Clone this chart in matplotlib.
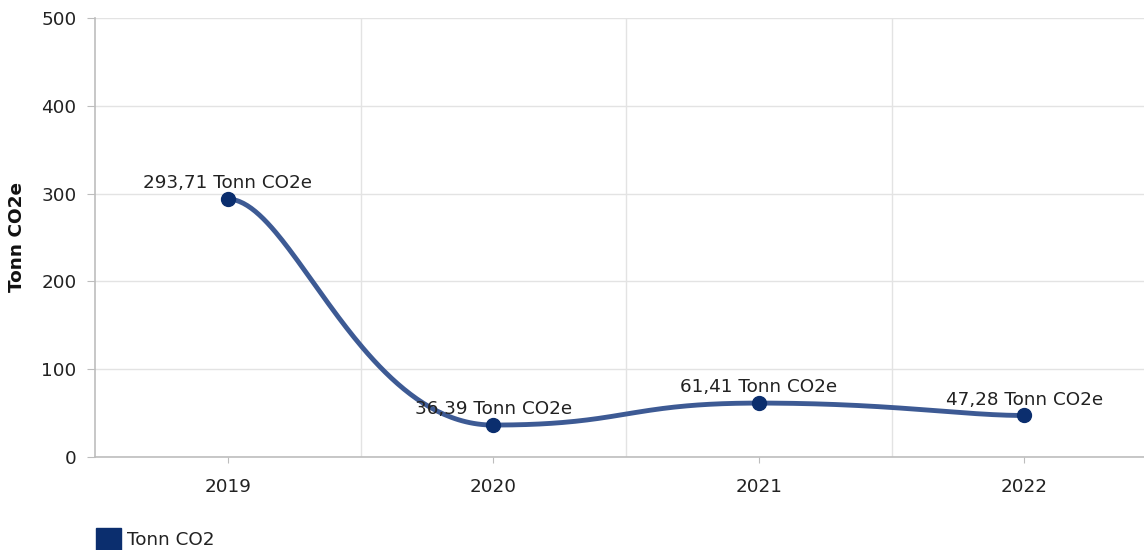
import matplotlib
matplotlib.use("Agg")
import matplotlib.pyplot as plt
import numpy as np
from matplotlib.patches import Rectangle

years = ["2019", "2020", "2021", "2022"]
values = [293.71, 36.39, 61.41, 47.28]
labels = ["293,71 Tonn CO2e", "36,39 Tonn CO2e", "61,41 Tonn CO2e", "47,28 Tonn CO2e"]
y_ticks = [0, 100, 200, 300, 400, 500]
series_name = "Tonn CO2"
y_title = "Tonn CO2e"

LINE = "#3d5a94"
MARK = "#0b2e6e"
GRID = "#e3e3e3"
AXIS = "#bdbdbd"
TXT = "#222222"

W, H = 1144, 550
fig = plt.figure(figsize=(W / 100, H / 100), dpi=100)
x0, x1 = 95, 1157
y0, y1 = 18, 457
ax = fig.add_axes([x0 / W, 1 - y1 / H, (x1 - x0) / W, (y1 - y0) / H])

xs = np.arange(len(values), dtype=float)
ys = np.array(values, dtype=float)


def smooth_curve(x, y, inner=0.5, end=0.24, samples=100):
    """Bezier spline: horizontal tangents at ends and local extrema."""
    n = len(x)
    slopes = np.zeros(n)
    for i in range(1, n - 1):
        a, b = y[i] - y[i - 1], y[i + 1] - y[i]
        if a * b > 0:
            slopes[i] = (y[i + 1] - y[i - 1]) / (x[i + 1] - x[i - 1])
    hl = np.full(n, inner)
    hl[0] = hl[-1] = end
    t = np.linspace(0, 1, samples)[:, None]
    out = []
    for i in range(n - 1):
        dx = x[i + 1] - x[i]
        P0 = np.array([x[i], y[i]])
        P3 = np.array([x[i + 1], y[i + 1]])
        P1 = P0 + np.array([hl[i] * dx, slopes[i] * hl[i] * dx])
        P2 = P3 - np.array([hl[i + 1] * dx, slopes[i + 1] * hl[i + 1] * dx])
        B = (1 - t) ** 3 * P0 + 3 * (1 - t) ** 2 * t * P1 + 3 * (1 - t) * t ** 2 * P2 + t ** 3 * P3
        out.append(B)
    B = np.vstack(out)
    return B[:, 0], B[:, 1]


cx, cy = smooth_curve(xs, ys)
ax.plot(cx, cy, color=LINE, lw=3.5, solid_capstyle="round", zorder=3)
ax.plot(xs, ys, "o", color=MARK, ms=10, zorder=4)

for xi, yi, lab in zip(xs, ys, labels):
    ax.annotate(lab, (xi, yi), xytext=(0, 7.8), textcoords="offset points",
                ha="center", va="baseline", fontsize=13.2, color=TXT, zorder=5)

ax.set_xlim(-0.5, 3.5)
ax.set_ylim(0, 500)
ax.set_yticks(y_ticks)
ax.set_yticklabels([str(v) for v in y_ticks])
ax.set_xticks(xs)
ax.set_xticklabels(years)
ax.set_xticks([0.5, 1.5, 2.5], minor=True)
ax.tick_params(axis="x", which="minor", length=0)
ax.grid(True, axis="y", color=GRID, lw=1)
ax.grid(True, axis="x", which="minor", color=GRID, lw=1)
ax.grid(False, axis="x", which="major")
ax.set_axisbelow(True)
for s in ["top", "right"]:
    ax.spines[s].set_visible(False)
for s in ["left", "bottom"]:
    ax.spines[s].set_color(AXIS)
    ax.spines[s].set_linewidth(1.2)
ax.tick_params(axis="y", length=5.8, color=AXIS, labelsize=13.2, labelcolor=TXT, pad=7.5)
ax.tick_params(axis="x", which="major", length=4.3, color=AXIS, labelsize=13.2, labelcolor=TXT, pad=10.5)
ax.set_ylabel(y_title, fontsize=13.3, fontweight="bold", color="#111111")
ax.yaxis.set_label_coords(-(95 - 26) / (x1 - x0), 0.5)

fig.add_artist(Rectangle((96 / W, 0), 25 / W, 22 / H, transform=fig.transFigure, color=MARK, clip_on=False))
fig.text(127 / W, 1 - 540 / H, series_name, fontsize=13.2, va="center", ha="left", color=TXT)

fig.savefig("out.png", dpi=100)
